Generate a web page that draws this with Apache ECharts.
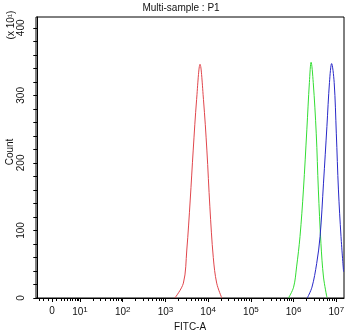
<!DOCTYPE html>
<html>
<head>
<meta charset="utf-8">
<script src="https://cdn.jsdelivr.net/npm/echarts@6/dist/echarts.min.js"></script>
<style>
  html, body { margin: 0; padding: 0; background: #fff; }
  #chart { width: 350px; height: 330px; }
</style>
</head>
<body>
<div id="chart"></div>
<script>
// FITC-A positions are in decades (log10 of intensity) on the logicle display axis.
const redFitc   = [3.22, 3.42, 3.50, 3.58, 3.65, 3.73, 3.81, 3.89, 3.97, 4.04, 4.12, 4.20, 4.32];
const redCount  = [0,    22,   71,   145,  219,  294,  346,  294,  219,  135,  60,   22,   0];

const greenFitc  = [5.88, 6.00, 6.07, 6.15, 6.23, 6.31, 6.37, 6.41, 6.46, 6.53, 6.58, 6.64, 6.70, 6.78];
const greenCount = [0,    16,   46,   91,   160,  249,  319,  349,  319,  244,  160,  81,   31,   1];

const blueFitc  = [6.32, 6.43, 6.54, 6.62, 6.70, 6.78, 6.84, 6.89, 6.95, 7.00, 7.05, 7.11, 7.17];
const blueCount = [0,    16,   51,   91,   170,  254,  319,  347,  319,  244,  160,  91,   39];

// Axis labels: "0" sits in the linear part of the logicle scale, then decades 10^1..10^7.
const xLabelPos = [0.344, 1, 2, 3, 4, 5, 6, 7];
const xLabelExp = [null, 1, 2, 3, 4, 5, 6, 7];
const yLabels = [0, 100, 200, 300, 400];

const FONT = 'Liberation Sans';

// Tick marks: decade ticks plus log-spaced minors (2..9) in each decade,
// and evenly spaced minors around zero.
const minorTicks = [0.05, 0.15, 0.25, 0.45, 0.55, 0.63, 0.70, 0.77, 0.83, 0.88, 0.93, 0.97];
for (let d = 1; d < 7; d++) {
  for (let k = 2; k <= 9; k++) minorTicks.push(d + Math.log10(k));
}
const yTicks = [];
for (let v = 0; v <= 400; v += 20) yTicks.push(v);

function pairs(xs, ys) { return xs.map((x, i) => [x, ys[i]]); }

const chart = echarts.init(document.getElementById('chart'), null, { renderer: 'canvas' });

const X_MIN = -0.03, X_MAX = 7.18;

chart.setOption({
  animation: false,
  backgroundColor: '#fff',
  textStyle: { fontFamily: FONT },
  grid: {
    left: 36, right: 6, top: 17, bottom: 32,
    outerBoundsMode: 'none', containLabel: false,
    show: true, borderColor: '#000', borderWidth: 1, backgroundColor: 'transparent'
  },
  graphic: [
    {
      type: 'text', x: 181, y: 8,
      style: { text: 'Multi-sample : P1', font: '10px ' + FONT, fill: '#111', textAlign: 'center', textVerticalAlign: 'middle' }
    },
    {
      type: 'text', x: 11, y: 25, rotation: Math.PI / 2,
      style: { text: '(x 10\u00b9)', font: '10px ' + FONT, fill: '#111', textAlign: 'center', textVerticalAlign: 'middle' }
    },
    {
      type: 'text', x: 10, y: 152, rotation: Math.PI / 2,
      style: { text: 'Count', font: '10px ' + FONT, fill: '#111', textAlign: 'center', textVerticalAlign: 'middle' }
    }
  ],
  xAxis: [
    {
      type: 'value', min: X_MIN, max: X_MAX,
      name: 'FITC-A', nameLocation: 'middle', nameGap: 21,
      nameTextStyle: { fontSize: 10, color: '#111', fontFamily: FONT },
      axisLine: { show: true, lineStyle: { color: '#000', width: 1 } },
      axisTick: { show: true, inside: false, length: 4, lineStyle: { color: '#000' }, customValues: xLabelPos },
      axisLabel: {
        show: true, margin: 8, color: '#111', fontSize: 10, fontFamily: FONT,
        customValues: xLabelPos,
        formatter: function (v) {
          const i = xLabelPos.findIndex(p => Math.abs(p - v) < 1e-6);
          if (i < 0) return '';
          if (xLabelExp[i] === null) return '0';
          return '10{sup|' + xLabelExp[i] + '}';
        },
        rich: { sup: { fontSize: 8, color: '#111', fontFamily: FONT, verticalAlign: 'bottom', padding: [0, 0, 5, 0] } }
      },
      splitLine: { show: false }
    },
    {
      type: 'value', min: X_MIN, max: X_MAX, position: 'bottom',
      axisLine: { show: false },
      axisTick: { show: true, inside: false, length: 3, lineStyle: { color: '#000' }, customValues: minorTicks },
      axisLabel: { show: false },
      splitLine: { show: false }
    }
  ],
  yAxis: {
    type: 'value', min: 0, max: 416,
    axisLine: { show: true, lineStyle: { color: '#000', width: 1 } },
    axisTick: { show: true, inside: false, length: 4, lineStyle: { color: '#000' }, customValues: yTicks },
    axisLabel: {
      show: true, rotate: 90, margin: 10, color: '#111', fontSize: 10, fontFamily: FONT,
      customValues: yLabels
    },
    splitLine: { show: false }
  },
  series: [
    {
      type: 'line', data: pairs(redFitc, redCount), smooth: 0.35, symbol: 'none',
      lineStyle: { color: '#e0464c', width: 1 }
    },
    {
      type: 'line', data: pairs(greenFitc, greenCount), smooth: 0.35, symbol: 'none',
      lineStyle: { color: '#33dd33', width: 1 }
    },
    {
      type: 'line', data: pairs(blueFitc, blueCount), smooth: 0.35, symbol: 'none',
      lineStyle: { color: '#2828c8', width: 1 }
    }
  ]
});
</script>
</body>
</html>
